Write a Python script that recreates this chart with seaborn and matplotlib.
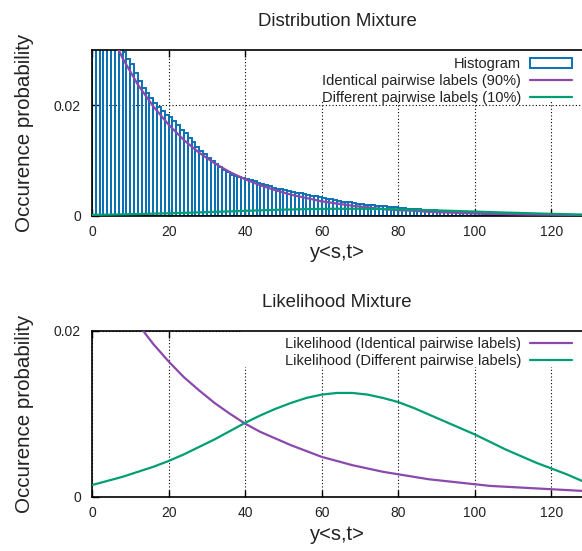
import numpy as np
import pandas as pd
import matplotlib
matplotlib.use("Agg")
import matplotlib.pyplot as plt
from matplotlib.patches import Rectangle
import seaborn as sns

# ---------------- data ----------------
hist_left = list(range(0, 128))
hist_vals = [
    0.0415, 0.0398, 0.0380, 0.0362, 0.0347, 0.0333, 0.0318, 0.0306, 0.0297, 0.0284,
    0.0274, 0.0259, 0.0243, 0.0232, 0.0222, 0.0213, 0.0204, 0.0196, 0.0189, 0.0182,
    0.0179, 0.0172, 0.0164, 0.0156, 0.0149, 0.0141, 0.0133, 0.0124, 0.0117, 0.0111,
    0.0105, 0.0099, 0.0094, 0.0089, 0.0082, 0.0079, 0.0074, 0.0071, 0.0070, 0.0068,
    0.0066, 0.0064, 0.0062, 0.0060, 0.0058, 0.0055, 0.0053, 0.0051, 0.0049, 0.0048,
    0.0047, 0.0045, 0.0043, 0.0042, 0.0041, 0.0040, 0.0038, 0.0036, 0.0035, 0.0033,
    0.0032, 0.0031, 0.0030, 0.0028, 0.0026, 0.0025, 0.0025, 0.0024, 0.0023, 0.0022,
    0.0021, 0.0020, 0.0019, 0.0019, 0.0018, 0.0017, 0.0017, 0.0016, 0.0016, 0.0015,
    0.0014, 0.0014, 0.0013, 0.0013, 0.0012, 0.0012, 0.0011, 0.0011, 0.0010, 0.0010,
    0.0009, 0.0009, 0.0008, 0.0008, 0.0007, 0.0006, 0.0006, 0.0005, 0.0005, 0.0004,
    0.0004, 0.0004, 0.0003, 0.0003, 0.0003, 0.0003, 0.0002, 0.0002, 0.0002, 0.0002,
    0.0002, 0.0002, 0.0002, 0.0002, 0.0001, 0.0001, 0.0001, 0.0001, 0.0001, 0.0001,
    0.0001, 0.0001, 0.0001, 0.0001, 0.0001, 0.0001, 0.0001, 0.0001,
]

curve_x = list(range(0, 129, 4))
dist_identical = [
    0.0412, 0.0343, 0.0285, 0.0237, 0.0198, 0.0165, 0.0137, 0.0114, 0.0095, 0.0079,
    0.0066, 0.0055, 0.0046, 0.0038, 0.0032, 0.0026, 0.0022, 0.0018, 0.0015, 0.0012,
    0.0010, 0.0009, 0.0007, 0.0006, 0.0005, 0.0004, 0.00035, 0.0003, 0.00024, 0.0002,
    0.00017, 0.00014, 0.00012,
]
dist_different = [
    0.00014, 0.00019, 0.00024, 0.00030, 0.00037, 0.00044, 0.00052, 0.00060, 0.00069, 0.00078,
    0.00088, 0.00097, 0.00106, 0.00113, 0.00119, 0.00123, 0.00125, 0.00125, 0.00124, 0.00120,
    0.00115, 0.00108, 0.00100, 0.00092, 0.00083, 0.00075, 0.00066, 0.00057, 0.00049, 0.00041,
    0.00034, 0.00027, 0.00020,
]
lik_identical = [
    0.0299, 0.0265, 0.0235, 0.0208, 0.0184, 0.0163, 0.0144, 0.0128, 0.0113, 0.0100,
    0.0088, 0.0078, 0.0070, 0.0062, 0.0055, 0.0048, 0.0043, 0.0038, 0.0034, 0.0030,
    0.0027, 0.0024, 0.0021, 0.0019, 0.0017, 0.0015, 0.0013, 0.0012, 0.0011, 0.0010,
    0.0009, 0.0008, 0.0007,
]
lik_different = [
    0.0014, 0.0019, 0.0024, 0.0030, 0.0036, 0.0043, 0.0051, 0.0060, 0.0069, 0.0079,
    0.0089, 0.0098, 0.0106, 0.0113, 0.0119, 0.0123, 0.0125, 0.0125, 0.0123, 0.0119,
    0.0114, 0.0107, 0.0099, 0.0091, 0.0083, 0.0075, 0.0066, 0.0057, 0.0049, 0.0041,
    0.0034, 0.0027, 0.0019,
]

x_ticks = [0, 20, 40, 60, 80, 100, 120]
y_ticks = [0, 0.02]
y_tick_labels = ["0", "0.02"]

titles = ["Distribution Mixture", "Likelihood Mixture"]
x_label = "y<s,t>"
y_label = "Occurence probability"
labels_top = ["Histogram", "Identical pairwise labels (90%)", "Different pairwise labels (10%)"]
labels_bottom = ["Likelihood (Identical pairwise labels)", "Likelihood (Different pairwise labels)"]

# ---------------- style ----------------
sns.set_theme(style="ticks")
plt.rcParams["font.family"] = ["Liberation Sans", "DejaVu Sans"]
TXT = "#222222"
BLUE = "#0b71b4"
PURPLE = "#8b48ad"
GREEN = "#009e73"

fig = plt.figure(figsize=(5.82, 5.51), dpi=100)
W, H = 582.0, 551.0
ax1 = fig.add_axes([92 / W, 1 - 215.7 / H, 490 / W, 165.7 / H])
ax2 = fig.add_axes([92 / W, 1 - 496.7 / H, 490 / W, 166.0 / H])


def style_axes(ax, ymax, title):
    ax.set_xlim(0, 128)
    ax.set_ylim(0, ymax)
    ax.set_xticks(x_ticks)
    ax.set_xticklabels([str(t) for t in x_ticks])
    ax.set_yticks(y_ticks)
    ax.set_yticklabels(y_tick_labels)
    ax.set_axisbelow(True)
    ax.grid(True, color="black", linestyle=(0, (1, 2)), linewidth=0.8)
    ax.tick_params(axis="x", direction="in", top=True, bottom=True, length=5,
                   width=1.0, labelsize=10, pad=7, colors="black", labelcolor=TXT)
    ax.tick_params(axis="y", direction="in", left=True, right=False, length=5,
                   width=1.0, labelsize=10, pad=8, colors="black", labelcolor=TXT)
    for side in ["top", "left", "bottom"]:
        ax.spines[side].set_color("black")
        ax.spines[side].set_linewidth(1.2)
    ax.spines["right"].set_visible(False)
    ax.set_title(title, fontsize=13.4, color=TXT, pad=17)


def finish(ax, handles, labels, label_top_y, anchor_y):
    ax.set_xlabel(x_label, fontsize=14.5, color=TXT)
    ax.set_ylabel(y_label, fontsize=14.8, color=TXT)
    ax.xaxis.set_label_coords(0.5, label_top_y)
    ax.yaxis.set_label_coords(-0.118, 0.5)
    leg = ax.legend(handles, labels, loc="upper right", bbox_to_anchor=(0.98, anchor_y),
                    frameon=False, markerfirst=False, handlelength=2.9,
                    handletextpad=0.6, labelspacing=0.2, fontsize=10.5,
                    borderpad=0, borderaxespad=0)
    for t in leg.get_texts():
        t.set_color(TXT)


# ---------------- top: distribution mixture ----------------
style_axes(ax1, 0.03, titles[0])
ax1.add_patch(Rectangle((0.455, 0.69), 0.6, 0.32, transform=ax1.transAxes,
                        facecolor="white", edgecolor="none", zorder=0.8))
bars = ax1.bar(hist_left, hist_vals, width=1.0, align="edge", facecolor="none",
               edgecolor=BLUE, linewidth=1.4, zorder=1.5)
sns.lineplot(x=curve_x, y=dist_identical, ax=ax1, color=PURPLE, linewidth=1.6, zorder=3)
sns.lineplot(x=curve_x, y=dist_different, ax=ax1, color=GREEN, linewidth=1.6, zorder=3)
l_top = ax1.get_lines()
finish(ax1, [bars.patches[0], l_top[0], l_top[1]], labels_top, -0.165, 0.955)

# ---------------- bottom: likelihood mixture ----------------
style_axes(ax2, 0.02, titles[1])
ax2.add_patch(Rectangle((0.305, 0.78), 0.7, 0.23, transform=ax2.transAxes,
                        facecolor="white", edgecolor="none", zorder=0.8))
sns.lineplot(x=curve_x, y=lik_identical, ax=ax2, color=PURPLE, linewidth=1.6, zorder=3)
sns.lineplot(x=curve_x, y=lik_different, ax=ax2, color=GREEN, linewidth=1.6, zorder=3)
l_bot = ax2.get_lines()
finish(ax2, [l_bot[0], l_bot[1]], labels_bottom, -0.17, 0.96)

fig.savefig("out.png", dpi=100)
